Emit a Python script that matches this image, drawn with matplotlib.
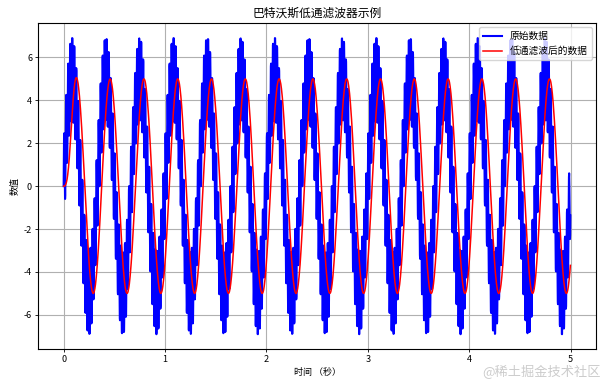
import numpy as np
import matplotlib
matplotlib.use("Agg")
import matplotlib.pyplot as plt

plt.rcParams['font.family'] = ['Noto Sans CJK SC', 'DejaVu Sans']
plt.rcParams['axes.unicode_minus'] = False

# ---- data description ----
sample_rate = 500.0           # samples per second
duration = 5.0                # seconds
signal_freqs = [3.0, 50.0]    # Hz: main sine and high-frequency component
signal_amps = [5.0, 2.0]      # amplitudes
filter_order = 4
cutoff_hz = 10.0

title = "巴特沃斯低通滤波器示例"
xlabel = "时间 （秒）"
ylabel = "数值"
legend_labels = ["原始数据", "低通滤波后的数据"]
xticks = [0, 1, 2, 3, 4, 5]
yticks = [-6, -4, -2, 0, 2, 4, 6]

t = np.linspace(0, duration, int(sample_rate * duration), endpoint=False)
raw = np.zeros_like(t)
for f, a in zip(signal_freqs, signal_amps):
    raw += a * np.sin(2 * np.pi * f * t)


def butter_lowpass(order, wn):
    fs = 2.0
    warped = 2 * fs * np.tan(np.pi * wn / fs)
    k = np.arange(-order + 1, order, 2)
    p = -np.exp(1j * np.pi * k / (2 * order)) * warped
    gain = warped ** order
    fs2 = 2 * fs
    pz = (fs2 + p) / (fs2 - p)
    zz = -np.ones(order)
    kz = gain * np.real(1.0 / np.prod(fs2 - p))
    b = kz * np.real(np.poly(zz))
    a = np.real(np.poly(pz))
    return b, a


def lfilter(b, a, x):
    b = b / a[0]
    a = a / a[0]
    n = len(a)
    zi = np.zeros(n - 1)
    y = np.empty_like(x)
    for i, xi in enumerate(x):
        yi = b[0] * xi + zi[0]
        for j in range(n - 2):
            zi[j] = b[j + 1] * xi + zi[j + 1] - a[j + 1] * yi
        zi[n - 2] = b[n - 1] * xi - a[n - 1] * yi
        y[i] = yi
    return y


b, a = butter_lowpass(filter_order, cutoff_hz / (0.5 * sample_rate))
filtered = lfilter(b, a, raw)

fig = plt.figure(figsize=(6.02, 3.85), dpi=100)
ax = fig.add_axes([38.3 / 602, 1 - 349 / 385, (595.7 - 38.3) / 602, (349 - 23.3) / 385])
ax.plot(t, raw, color='blue', linewidth=1.5, label=legend_labels[0])
ax.plot(t, filtered, color='red', linewidth=1.1, label=legend_labels[1])
ax.set_title(title, fontsize=8.5, pad=5)
ax.set_xlabel(xlabel, fontsize=6.5, labelpad=3)
ax.set_ylabel(ylabel, fontsize=6.5, labelpad=3)
ax.set_xticks(xticks)
ax.set_yticks(yticks)
ax.tick_params(labelsize=6.5, length=2.5, width=0.6, pad=2)
for s in ax.spines.values():
    s.set_linewidth(0.8)
ax.grid(True, color='#b0b0b0', linewidth=0.8)
ax.legend(loc='upper right', fontsize=7, handlelength=2.0, borderaxespad=0.4,
          framealpha=0.8, edgecolor='#cccccc')

fig.text(0.998, 0.015, "@稀土掘金技术社区", ha='right', va='bottom', fontsize=9.5,
         color='#cccccc')

fig.savefig("out.png", dpi=100)
